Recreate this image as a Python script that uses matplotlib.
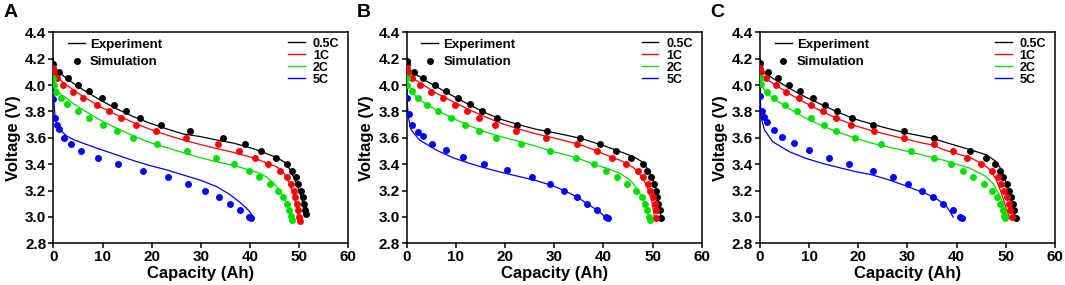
import matplotlib
matplotlib.use("Agg")
import matplotlib.pyplot as plt
from matplotlib.lines import Line2D
import numpy as np

plt.rcParams['font.family'] = ['Liberation Sans', 'DejaVu Sans']
plt.rcParams['font.weight'] = 'bold'

rates = ['0.5C', '1C', '2C', '5C']
colors = ['#000000', '#ff0000', '#00e000', '#0000ff']
panels = ['A', 'B', 'C']

# (capacity Ah, voltage V)
# ---- panel A ----
A_EXP_05 = [(0, 4.20), (0.15, 4.15), (0.7, 4.114), (1.5, 4.085), (2.7, 4.051), (4.2, 4.01), (6.1, 3.963),
            (8.0, 3.92), (9.5, 3.887), (12.9, 3.819), (16.3, 3.76), (19.7, 3.71), (23.1, 3.667), (26.4, 3.629),
            (29.8, 3.61), (33.0, 3.585), (36.6, 3.56), (40.0, 3.525), (42.0, 3.50), (45.4, 3.45), (46.6, 3.425),
            (47.5, 3.40), (48.5, 3.33), (49.5, 3.25), (50.5, 3.14), (51.3, 3.02)]
A_EXP_1 = [(0, 4.13), (0.2, 4.09), (0.7, 4.063), (1.5, 4.035), (2.7, 4.0), (4.2, 3.96), (6.1, 3.912), (9.5, 3.836),
           (12.9, 3.773), (16.3, 3.715), (19.7, 3.664), (23.1, 3.621), (26.4, 3.583), (29.8, 3.55), (33.0, 3.52),
           (36.6, 3.49), (40.0, 3.455), (42.0, 3.43), (45.4, 3.38), (46.4, 3.355), (47.1, 3.32), (48.1, 3.25),
           (49.0, 3.15), (49.6, 3.05), (50.0, 2.97)]
A_EXP_2 = [(0, 4.06), (0.15, 4.0), (0.7, 3.963), (1.5, 3.93), (2.7, 3.90), (4.2, 3.855), (6.1, 3.811), (9.5, 3.735),
           (12.9, 3.672), (16.3, 3.614), (19.7, 3.563), (23.1, 3.525), (26.4, 3.487), (29.8, 3.45), (33.0, 3.42),
           (36.6, 3.39), (40.0, 3.355), (42.0, 3.33), (43.5, 3.30), (44.7, 3.26), (45.6, 3.22), (46.4, 3.18),
           (47.6, 3.09), (48.3, 3.01), (48.4, 2.98)]
A_EXP_5 = [(0, 4.20), (0.05, 4.0), (0.15, 3.85), (0.35, 3.76), (0.7, 3.70), (1.36, 3.659), (2.7, 3.614), (4.2, 3.585),
           (6.1, 3.558), (9.5, 3.513), (12.9, 3.47), (16.3, 3.427), (19.7, 3.389), (23.1, 3.356), (26.4, 3.318),
           (29.8, 3.28), (33.2, 3.23), (35.9, 3.17), (38.3, 3.10), (39.7, 3.05), (40.7, 3.00)]
A_SIM_05 = [(0, 4.16), (1.15, 4.10), (3.0, 4.05), (5.1, 4.0), (7.3, 3.955), (9.9, 3.90), (12.4, 3.85), (14.8, 3.80),
            (17.7, 3.75), (21.8, 3.70), (27.8, 3.65), (34.5, 3.60), (38.9, 3.55), (42.2, 3.50), (45.2, 3.45),
            (47.6, 3.40), (48.6, 3.35), (49.4, 3.30), (49.8, 3.25), (50.3, 3.20), (50.7, 3.15), (50.9, 3.10),
            (51.2, 3.05), (51.3, 3.02)]
A_SIM_1 = [(0, 4.13), (0.2, 4.10), (0.8, 4.05), (2.0, 4.0), (3.9, 3.95), (6.1, 3.90), (8.8, 3.85), (11.3, 3.80),
           (13.8, 3.75), (16.8, 3.70), (20.9, 3.65), (26.9, 3.60), (33.4, 3.55), (37.8, 3.50), (41.0, 3.45),
           (43.6, 3.40), (46.1, 3.35), (47.6, 3.30), (48.3, 3.25), (48.9, 3.20), (49.2, 3.15), (49.5, 3.10),
           (49.8, 3.05), (50.0, 3.00), (50.1, 2.97)]
A_SIM_2 = [(0, 4.05), (0.1, 4.0), (0.6, 3.95), (1.5, 3.905), (2.8, 3.855), (5.1, 3.80), (7.3, 3.75), (10.0, 3.70),
           (12.9, 3.65), (16.3, 3.60), (21.1, 3.55), (27.2, 3.50), (33.0, 3.45), (36.8, 3.40), (39.7, 3.35),
           (41.9, 3.30), (44.0, 3.25), (45.6, 3.20), (46.8, 3.15), (47.6, 3.10), (48.0, 3.05), (48.3, 3.01),
           (48.5, 2.98)]
A_SIM_5 = [(0, 3.895), (0.35, 3.75), (0.7, 3.70), (1.15, 3.665), (2.2, 3.60), (3.5, 3.55), (5.6, 3.50), (9.0, 3.45),
           (13.1, 3.40), (18.2, 3.35), (23.3, 3.30), (27.3, 3.25), (30.8, 3.20), (33.6, 3.15), (35.9, 3.10),
           (38.0, 3.05), (39.8, 3.00), (40.2, 2.99)]

# ---- panel B ----
B_EXP_05 = [(0, 4.20), (0.2, 4.16), (0.6, 4.115), (1.5, 4.09), (2.6, 4.064), (4.0, 4.03), (6.0, 3.988), (9.4, 3.917),
            (12.8, 3.849), (16.2, 3.786), (19.6, 3.735), (23.0, 3.697), (26.4, 3.664), (29.8, 3.64), (33.0, 3.615),
            (35.5, 3.595), (38.0, 3.565), (40.5, 3.535), (43.4, 3.495), (46.1, 3.457), (47.8, 3.42), (48.9, 3.37),
            (49.8, 3.306), (50.6, 3.23), (51.2, 3.128), (51.7, 3.0)]
B_EXP_1 = [(0, 4.15), (0.2, 4.10), (0.6, 4.064), (2.6, 4.02), (6.0, 3.938), (9.4, 3.874), (12.8, 3.811), (16.2, 3.755),
           (19.6, 3.705), (23.0, 3.664), (26.4, 3.629), (29.8, 3.60), (33.0, 3.57), (35.5, 3.545), (38.0, 3.51),
           (40.5, 3.47), (43.4, 3.43), (46.1, 3.375), (47.8, 3.306), (48.9, 3.23), (49.8, 3.128), (50.4, 3.0)]
B_EXP_2 = [(0, 4.06), (0.1, 4.02), (0.4, 4.0), (1.3, 3.938), (2.6, 3.887), (6.0, 3.811), (9.4, 3.748), (12.8, 3.69),
           (16.2, 3.642), (19.6, 3.604), (23.0, 3.571), (26.4, 3.535), (29.2, 3.50), (32.0, 3.475), (34.4, 3.45),
           (38.0, 3.40), (41.0, 3.365), (43.4, 3.33), (45.4, 3.28), (47.1, 3.204), (48.1, 3.128), (48.9, 3.05),
           (49.3, 2.99)]
B_EXP_5 = [(0, 4.19), (0.05, 3.91), (0.3, 3.76), (0.9, 3.66), (2.6, 3.583), (6.0, 3.507), (9.4, 3.449), (12.8, 3.406),
           (16.2, 3.368), (19.6, 3.335), (23.0, 3.305), (26.4, 3.275), (29.8, 3.235), (32.0, 3.20), (34.7, 3.15),
           (36.7, 3.10), (38.8, 3.05), (40.4, 3.00)]
B_SIM_05 = [(0, 4.18), (0.14, 4.16), (1.4, 4.10), (3.4, 4.05), (5.7, 4.0), (7.9, 3.955), (10.4, 3.90), (12.9, 3.855),
            (15.4, 3.80), (18.4, 3.75), (22.5, 3.70), (28.6, 3.65), (35.2, 3.60), (39.3, 3.55), (42.6, 3.50),
            (45.6, 3.45), (48.0, 3.40), (48.9, 3.35), (49.6, 3.30), (50.2, 3.25), (50.6, 3.20), (51.0, 3.15),
            (51.2, 3.10), (51.5, 3.05), (51.7, 2.995)]
B_SIM_1 = [(0, 4.13), (0.3, 4.10), (1.0, 4.05), (2.8, 4.0), (4.9, 3.95), (7.3, 3.90), (9.8, 3.85), (12.3, 3.80),
           (14.8, 3.75), (18.0, 3.70), (22.3, 3.65), (28.4, 3.60), (34.6, 3.55), (38.8, 3.50), (41.8, 3.45),
           (44.6, 3.40), (47.0, 3.35), (48.0, 3.30), (49.0, 3.25), (49.5, 3.20), (50.0, 3.15), (50.4, 3.10),
           (50.6, 3.05), (50.8, 2.995)]
B_SIM_2 = [(0, 4.05), (0.1, 4.0), (1.0, 3.955), (2.2, 3.90), (4.2, 3.85), (6.4, 3.80), (9.1, 3.75), (11.8, 3.70),
           (14.7, 3.65), (18.2, 3.60), (23.2, 3.55), (29.2, 3.50), (34.4, 3.45), (38.0, 3.40), (40.5, 3.35),
           (42.8, 3.30), (44.9, 3.25), (46.6, 3.20), (47.8, 3.15), (48.5, 3.10), (48.9, 3.05), (49.2, 3.00),
           (49.4, 2.98)]
B_SIM_5 = [(0, 3.905), (0.5, 3.78), (1.1, 3.70), (2.2, 3.645), (3.3, 3.61), (5.2, 3.55), (7.9, 3.505), (11.4, 3.455),
           (15.8, 3.40), (20.3, 3.355), (25.4, 3.30), (29.1, 3.25), (32.0, 3.20), (34.7, 3.15), (36.7, 3.10),
           (38.8, 3.05), (40.5, 3.00), (40.9, 2.99)]

# ---- panel C ----
C_EXP_05 = [(0, 4.20), (0.15, 4.15), (0.54, 4.102), (1.5, 4.08), (2.6, 4.051), (4.0, 4.02), (6.0, 3.975),
            (9.35, 3.907), (12.7, 3.849), (16.1, 3.79), (19.5, 3.74), (22.9, 3.702), (26.3, 3.668), (29.7, 3.637),
            (33.0, 3.612), (35.2, 3.595), (37.3, 3.57), (40.0, 3.54), (42.7, 3.51), (46.1, 3.47), (48.0, 3.42),
            (48.9, 3.37), (49.8, 3.29), (50.6, 3.19), (51.4, 3.08), (52.0, 2.99)]
C_EXP_1 = [(0, 4.14), (0.15, 4.09), (0.54, 4.064), (2.6, 4.014), (6.0, 3.933), (9.35, 3.862), (12.7, 3.798),
           (16.1, 3.74), (19.5, 3.69), (22.9, 3.652), (26.3, 3.621), (29.7, 3.59), (33.0, 3.56), (35.2, 3.545),
           (37.3, 3.51), (40.0, 3.48), (42.7, 3.45), (45.4, 3.40), (46.7, 3.36), (48.1, 3.28), (49.1, 3.18),
           (50.2, 3.05), (50.8, 2.99)]
C_EXP_2 = [(0, 4.06), (0.1, 4.02), (0.2, 4.0), (1.2, 3.95), (2.6, 3.90), (6.0, 3.82), (9.35, 3.748), (12.7, 3.69),
           (16.1, 3.64), (19.5, 3.596), (22.9, 3.558), (26.3, 3.528), (29.7, 3.50), (33.0, 3.47), (37.3, 3.43),
           (40.0, 3.40), (42.7, 3.37), (45.8, 3.31), (47.5, 3.25), (48.8, 3.16), (49.8, 3.06), (50.3, 2.99)]
C_EXP_5 = [(0, 4.19), (0.05, 3.92), (0.2, 3.76), (0.9, 3.66), (2.6, 3.57), (6.0, 3.494), (9.35, 3.444), (12.7, 3.406),
           (16.1, 3.374), (19.5, 3.343), (22.9, 3.318), (26.3, 3.28), (29.7, 3.235), (33.9, 3.174), (36.3, 3.128),
           (38.0, 3.077), (39.3, 3.00)]
C_SIM_05 = [(0, 4.165), (1.7, 4.10), (3.7, 4.05), (5.9, 4.0), (8.2, 3.955), (10.7, 3.90), (13.2, 3.85), (15.7, 3.80),
            (18.8, 3.75), (22.9, 3.70), (29.2, 3.65), (35.4, 3.60), (42.7, 3.50), (45.9, 3.45), (47.9, 3.40),
            (48.8, 3.35), (49.5, 3.30), (50.2, 3.25), (50.6, 3.20), (51.1, 3.15), (51.4, 3.10), (51.7, 3.05),
            (52.0, 2.995)]
C_SIM_1 = [(0, 4.13), (0.2, 4.10), (1.2, 4.05), (3.2, 4.0), (5.3, 3.95), (7.9, 3.90), (10.4, 3.85), (12.9, 3.80),
           (15.5, 3.75), (18.6, 3.70), (23.1, 3.65), (29.3, 3.60), (35.3, 3.55), (39.2, 3.50), (42.2, 3.45),
           (44.9, 3.40), (47.2, 3.35), (48.4, 3.30), (49.1, 3.25), (49.6, 3.20), (50.2, 3.15), (50.6, 3.10),
           (50.9, 3.05), (51.2, 3.00)]
C_SIM_2 = [(0, 4.055), (0.2, 4.005), (1.4, 3.95), (2.9, 3.90), (5.0, 3.85), (7.6, 3.80), (10.3, 3.75), (13.1, 3.70),
           (15.5, 3.65), (19.4, 3.60), (24.6, 3.55), (30.7, 3.50), (35.4, 3.45), (38.8, 3.40), (41.2, 3.35),
           (43.4, 3.30), (45.6, 3.25), (47.1, 3.20), (48.3, 3.15), (48.9, 3.10), (49.4, 3.05), (49.6, 3.01),
           (49.9, 2.99)]
C_SIM_5 = [(0, 3.915), (0.4, 3.80), (0.8, 3.76), (1.4, 3.72), (2.9, 3.66), (4.5, 3.605), (6.9, 3.56), (9.9, 3.51),
           (14.1, 3.45), (18.2, 3.40), (22.9, 3.35), (27.0, 3.30), (30.2, 3.25), (32.9, 3.20), (35.2, 3.15),
           (37.3, 3.10), (39.3, 3.05), (40.7, 3.00), (41.0, 2.99)]

experiment = {
    'A': [A_EXP_05, A_EXP_1, A_EXP_2, A_EXP_5],
    'B': [B_EXP_05, B_EXP_1, B_EXP_2, B_EXP_5],
    'C': [C_EXP_05, C_EXP_1, C_EXP_2, C_EXP_5],
}
simulation = {
    'A': [A_SIM_05, A_SIM_1, A_SIM_2, A_SIM_5],
    'B': [B_SIM_05, B_SIM_1, B_SIM_2, B_SIM_5],
    'C': [C_SIM_05, C_SIM_1, C_SIM_2, C_SIM_5],
}

fig = plt.figure(figsize=(10.65, 2.85), dpi=100)
lefts = [0.0501, 0.3819, 0.7136]

for panel, left in zip(panels, lefts):
    ax = fig.add_axes([left, 0.1463, 0.277, 0.7404])

    for exp, sim, c in zip(experiment[panel], simulation[panel], colors):
        ex, ey = np.array(exp).T
        sx, sy = np.array(sim).T
        ax.plot(ex, ey, '-', color=c, lw=0.9, zorder=2)
        ax.plot(sx, sy, 'o', color=c, ms=5, mec='none', zorder=3)

    ax.set_xlim(0, 60)
    ax.set_ylim(2.8, 4.4)
    ax.set_xticks(np.arange(0, 61, 10))
    ax.set_yticks(np.arange(2.8, 4.41, 0.2))
    ax.set_yticklabels([f"{v:.1f}" for v in np.arange(2.8, 4.41, 0.2)])
    ax.tick_params(direction='out', length=3.5, width=1.1, labelsize=11, pad=1.5)
    for lab in ax.get_xticklabels() + ax.get_yticklabels():
        lab.set_fontweight('bold')
    for sp in ax.spines.values():
        sp.set_linewidth(1.1)

    ax.set_xlabel("Capacity (Ah)", fontsize=12, fontweight='bold', labelpad=1)
    ax.set_ylabel("Voltage (V)", fontsize=12, fontweight='bold', labelpad=3)

    # legend: line vs dots
    h1 = [Line2D([], [], color='k', lw=1.0),
          Line2D([], [], color='k', marker='o', ls='none', ms=5, mec='none')]
    leg1 = ax.legend(h1, ['Experiment', 'Simulation'], loc='upper left', bbox_to_anchor=(0.05, 0.97),
                     frameon=False, borderpad=0, borderaxespad=0, handlelength=1.28, handletextpad=0.38,
                     labelspacing=0.4, prop={'size': 9.5, 'weight': 'bold'})
    ax.add_artist(leg1)

    # legend: rates
    h2 = [Line2D([], [], color=c, lw=1.0) for c in colors]
    ax.legend(h2, rates, loc='upper left', bbox_to_anchor=(0.796, 0.975),
              frameon=False, borderpad=0, borderaxespad=0, handlelength=1.35, handletextpad=0.62,
              labelspacing=0.0, prop={'size': 9, 'weight': 'bold'})

    fig.text(left - 0.047, 0.985, panel, fontsize=14, fontweight='bold', va='top', ha='left')

fig.savefig("out.png", dpi=100)
